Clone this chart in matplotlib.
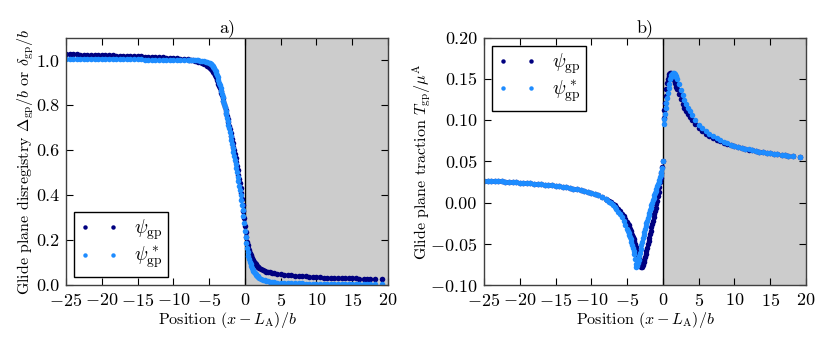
import matplotlib
matplotlib.use('Agg')
import matplotlib.pyplot as plt

plt.rcParams['font.family'] = 'serif'
plt.rcParams['font.serif'] = ['cmr10']
plt.rcParams['mathtext.fontset'] = 'cm'
plt.rcParams['axes.formatter.use_mathtext'] = True
plt.rcParams['font.size'] = 11

# positions (x - L_A)/b, same sample points for both panels
x_pos = [-25, -24.5, -24, -23.5, -23, -22.5, -22, -21.5, -21, -20.5,
         -20, -19.5, -19, -18.5, -18, -17.5, -17, -16.5, -16, -15.5,
         -15, -14.5, -14, -13.5, -13, -12.5, -12, -11.5, -11, -10.5,
         -10, -9.5, -9, -8.5, -8,
         -7.75, -7.5, -7.25, -7, -6.75, -6.5, -6.25, -6, -5.75, -5.5, -5.25,
         -5.0, -4.9, -4.8, -4.7, -4.6, -4.5, -4.4, -4.3, -4.2, -4.1,
         -4.0, -3.9, -3.8, -3.7, -3.6, -3.5, -3.4, -3.3, -3.2, -3.1,
         -3.0, -2.9, -2.8, -2.7, -2.6, -2.5, -2.4, -2.3, -2.2, -2.1,
         -2.0, -1.9, -1.8, -1.7, -1.6, -1.5, -1.4, -1.3, -1.2, -1.1,
         -1.0, -0.9, -0.8, -0.7, -0.6, -0.5, -0.4, -0.3, -0.2, -0.1, 0.0,
         0.1, 0.2, 0.3, 0.4, 0.5, 0.6, 0.7, 0.8, 0.9, 1.0,
         1.1, 1.2, 1.3, 1.4, 1.5, 1.6, 1.7, 1.8, 1.9, 2.0,
         2.25, 2.5, 2.75, 3.0, 3.25, 3.5, 3.75, 4.0,
         4.5, 5.0, 5.5, 6.0, 6.5, 7.0, 7.5, 8.0, 8.5, 9.0, 9.5, 10.0,
         10.5, 11.0, 11.5, 12.0, 12.5, 13.0, 13.5, 14.0, 14.5, 15.0, 15.5, 16.0,
         16.6, 17.1, 17.5, 18.2, 19.2]

# a) disregistry
disreg_psi = [1.028, 1.028, 1.027, 1.027, 1.026, 1.026, 1.025, 1.025, 1.024, 1.024,
              1.023, 1.023, 1.022, 1.022, 1.021, 1.021, 1.020, 1.020, 1.019, 1.019,
              1.018, 1.018, 1.017, 1.016, 1.016, 1.015, 1.014, 1.013, 1.012, 1.011,
              1.010, 1.009, 1.008, 1.006, 1.005,
              1.004, 1.003, 1.001, 0.999, 0.997, 0.995, 0.993, 0.990, 0.986, 0.982, 0.977,
              0.971, 0.968, 0.965, 0.961, 0.957, 0.953, 0.948, 0.943, 0.937, 0.931,
              0.924, 0.915, 0.906, 0.896, 0.886, 0.876, 0.866, 0.855, 0.844, 0.832,
              0.820, 0.807, 0.794, 0.781, 0.767, 0.753, 0.739, 0.724, 0.709, 0.694,
              0.679, 0.664, 0.648, 0.632, 0.616, 0.600, 0.583, 0.566, 0.548, 0.530,
              0.511, 0.492, 0.472, 0.452, 0.430, 0.408, 0.384, 0.358, 0.330, 0.298, 0.262,
              0.235, 0.212, 0.193, 0.178, 0.165, 0.154, 0.144, 0.135, 0.127, 0.120,
              0.113, 0.107, 0.102, 0.097, 0.093, 0.089, 0.085, 0.082, 0.079, 0.076,
              0.071, 0.067, 0.063, 0.060, 0.058, 0.056, 0.054, 0.052,
              0.050, 0.048, 0.046, 0.044, 0.043, 0.041, 0.040, 0.039, 0.038, 0.037, 0.036, 0.035,
              0.034, 0.033, 0.033, 0.032, 0.031, 0.031, 0.030, 0.030, 0.029, 0.029, 0.029, 0.028,
              0.028, 0.028, 0.027, 0.027, 0.027]

disreg_psi_star = [1.007, 1.007, 1.007, 1.007, 1.007, 1.006, 1.006, 1.006, 1.006, 1.006,
                   1.006, 1.006, 1.006, 1.005, 1.005, 1.005, 1.005, 1.005, 1.005, 1.005,
                   1.005, 1.005, 1.004, 1.004, 1.004, 1.004, 1.004, 1.004, 1.004, 1.003,
                   1.003, 1.003, 1.003, 1.003, 1.002,
                   1.002, 1.002, 1.001, 1.001, 1.000, 1.000, 0.999, 0.998, 0.997, 0.995, 0.993,
                   0.990, 0.988, 0.986, 0.983, 0.980, 0.976, 0.971, 0.965, 0.958, 0.951,
                   0.943, 0.934, 0.924, 0.913, 0.901, 0.889, 0.876, 0.863, 0.849, 0.835,
                   0.821, 0.806, 0.791, 0.776, 0.761, 0.745, 0.729, 0.713, 0.697, 0.680,
                   0.663, 0.646, 0.629, 0.612, 0.594, 0.576, 0.558, 0.540, 0.521, 0.502,
                   0.483, 0.463, 0.443, 0.422, 0.401, 0.379, 0.356, 0.332, 0.306, 0.276, 0.242,
                   0.212, 0.186, 0.164, 0.145, 0.129, 0.115, 0.103, 0.092, 0.083, 0.075,
                   0.068, 0.062, 0.057, 0.052, 0.048, 0.044, 0.041, 0.038, 0.035, 0.033,
                   0.028, 0.024, 0.021, 0.018, 0.016, 0.014, 0.013, 0.012,
                   0.010, 0.009, 0.008, 0.008, 0.007, 0.007, 0.007, 0.007, 0.006, 0.006, 0.006, 0.006,
                   0.006, 0.006, 0.006, 0.006, 0.006, 0.006, 0.006, 0.006, 0.006, 0.006, 0.006, 0.006,
                   0.006, 0.006, 0.006, 0.006, 0.006]

# b) traction
# left branch ends at x = 0 with 0.05, right branch jumps up to ~0.1
trac_psi = [0.0268, 0.0266, 0.0264, 0.0262, 0.0260, 0.0258, 0.0255, 0.0253, 0.0250, 0.0247,
            0.0244, 0.0241, 0.0238, 0.0235, 0.0231, 0.0227, 0.0223, 0.0219, 0.0214, 0.0209,
            0.0204, 0.0198, 0.0192, 0.0186, 0.0179, 0.0171, 0.0163, 0.0154, 0.0144, 0.0133,
            0.0121, 0.0108, 0.0095, 0.0073, 0.0050,
            0.0036, 0.0021, 0.0005, -0.0013, -0.0033, -0.0055, -0.0079, -0.0105, -0.0133, -0.0165, -0.0200,
            -0.0240, -0.0258, -0.0277, -0.0297, -0.0318, -0.0340, -0.0363, -0.0387, -0.0412, -0.0440,
            -0.0470, -0.0502, -0.0535, -0.0570, -0.0605, -0.0640, -0.0675, -0.0708, -0.0740, -0.0768,
            -0.0784, -0.0782, -0.0760, -0.0725, -0.0693, -0.0660, -0.0625, -0.0585, -0.0545, -0.0505,
            -0.0465, -0.0425, -0.0385, -0.0345, -0.0300, -0.0260, -0.0220, -0.0180, -0.0140, -0.0100,
            -0.0060, -0.0020, 0.0025, 0.0075, 0.0130, 0.0185, 0.0245, 0.0305, 0.0365, 0.0430, 0.0500,
            0.1030, 0.1120, 0.1210, 0.1300, 0.1380, 0.1450, 0.1505, 0.1543, 0.1563, 0.1571,
            0.1570, 0.1562, 0.1548, 0.1530, 0.1508, 0.1484, 0.1458, 0.1432, 0.1405, 0.1378,
            0.1315, 0.1257, 0.1203, 0.1155, 0.1112, 0.1073, 0.1038, 0.1006,
            0.0950, 0.0905, 0.0867, 0.0835, 0.0808, 0.0784, 0.0762, 0.0743, 0.0726, 0.0712, 0.0698, 0.0685,
            0.0673, 0.0663, 0.0653, 0.0644, 0.0635, 0.0627, 0.0619, 0.0612, 0.0605, 0.0599, 0.0593, 0.0587,
            0.0581, 0.0576, 0.0572, 0.0566, 0.0558]

trac_psi_star = [0.0268, 0.0266, 0.0264, 0.0262, 0.0260, 0.0258, 0.0255, 0.0253, 0.0250, 0.0247,
                 0.0244, 0.0241, 0.0238, 0.0235, 0.0231, 0.0227, 0.0223, 0.0219, 0.0214, 0.0209,
                 0.0204, 0.0198, 0.0192, 0.0186, 0.0179, 0.0171, 0.0163, 0.0154, 0.0144, 0.0133,
                 0.0121, 0.0108, 0.0094, 0.0071, 0.0046,
                 0.0030, 0.0012, -0.0008, -0.0030, -0.0054, -0.0080, -0.0109, -0.0140, -0.0180, -0.0222, -0.0270,
                 -0.0322, -0.0344, -0.0367, -0.0392, -0.0418, -0.0446, -0.0476, -0.0509, -0.0545, -0.0584,
                 -0.0626, -0.0685, -0.0750, -0.0786, -0.0770, -0.0735, -0.0695, -0.0652, -0.0608, -0.0564,
                 -0.0520, -0.0477, -0.0435, -0.0395, -0.0357, -0.0321, -0.0286, -0.0253, -0.0220, -0.0188,
                 -0.0156, -0.0124, -0.0093, -0.0062, -0.0031, -0.0001, 0.0029, 0.0058, 0.0087, 0.0115,
                 0.0143, 0.0170, 0.0197, 0.0224, 0.0251, 0.0279, 0.0308, 0.0339, 0.0375, 0.0425, 0.0500,
                 0.0955, 0.1015, 0.1080, 0.1145, 0.1210, 0.1275, 0.1335, 0.1390, 0.1440, 0.1505,
                 0.1530, 0.1550, 0.1563, 0.1570, 0.1572, 0.1568, 0.1558, 0.1543, 0.1522, 0.1498,
                 0.1435, 0.1370, 0.1307, 0.1250, 0.1200, 0.1152, 0.1108, 0.1068,
                 0.1002, 0.0948, 0.0903, 0.0865, 0.0833, 0.0805, 0.0780, 0.0758, 0.0739, 0.0722, 0.0706, 0.0692,
                 0.0679, 0.0667, 0.0656, 0.0646, 0.0637, 0.0628, 0.0620, 0.0613, 0.0606, 0.0599, 0.0593, 0.0587,
                 0.0581, 0.0576, 0.0572, 0.0566, 0.0558]

labels = [r'$\psi_{\rm gp}$', r'$\psi^*_{\rm gp}$']
colors = ['#000080', '#1E8CFF']

fig = plt.figure(figsize=(8.3, 3.46), dpi=100)
ax1 = fig.add_axes([0.0795, 0.1763, 0.388, 0.714])
ax2 = fig.add_axes([0.5831, 0.1763, 0.388, 0.714])

for ax, series, ylim, yticks in [
        (ax1, [disreg_psi, disreg_psi_star], (0, 1.1), [0, 0.2, 0.4, 0.6, 0.8, 1.0]),
        (ax2, [trac_psi, trac_psi_star], (-0.10, 0.20), [-0.10, -0.05, 0.0, 0.05, 0.10, 0.15, 0.20])]:
    ax.axvspan(0, 20, color='#cccccc', zorder=0, lw=0)
    ax.axvline(0, color='k', lw=1, zorder=1)
    for ys, c, lab in zip(series, colors, labels):
        ax.plot(x_pos, ys, 'o', color=c, markersize=4.0, markeredgewidth=0, label=lab, zorder=2)
    ax.set_xlim(-25, 20)
    ax.set_ylim(*ylim)
    ax.set_xticks(range(-25, 21, 5))
    ax.set_yticks(yticks)
    ax.tick_params(direction='in', top=True, right=True, length=5, width=0.8, labelsize=13, pad=5)
    for sp in ax.spines.values():
        sp.set_color('#404040')
        sp.set_linewidth(1.0)
    ax.set_xlabel(r'Position $(x - L_{\rm A})/b$', fontsize=11.5, labelpad=1)

ax1.set_yticklabels(['0.0', '0.2', '0.4', '0.6', '0.8', '1.0'])
ax2.set_yticklabels(['$-0.10$', '$-0.05$', '0.00', '0.05', '0.10', '0.15', '0.20'])

ax1.set_ylabel(r'Glide plane disregistry $\Delta_{\rm gp}/b$ or $\delta_{\rm gp}/b$', fontsize=11.5, labelpad=0)
ax2.set_ylabel(r'Glide plane traction $T_{\rm gp}/\mu^{\rm A}$', fontsize=11.5, labelpad=-3)
ax1.set_title('a)', fontsize=13, pad=4)
ax2.set_title('b)', fontsize=13, pad=4)

for ax, loc in [(ax1, 'lower left'), (ax2, 'upper left')]:
    leg = ax.legend(loc=loc, numpoints=2, fontsize=14, fancybox=False, framealpha=1,
                    edgecolor='k', handlelength=2.0, handletextpad=0.8, borderpad=0.3,
                    borderaxespad=0.4, labelspacing=0.15, markerscale=0.8)
    leg.get_frame().set_linewidth(1.0)

fig.savefig('out.png', dpi=100)
